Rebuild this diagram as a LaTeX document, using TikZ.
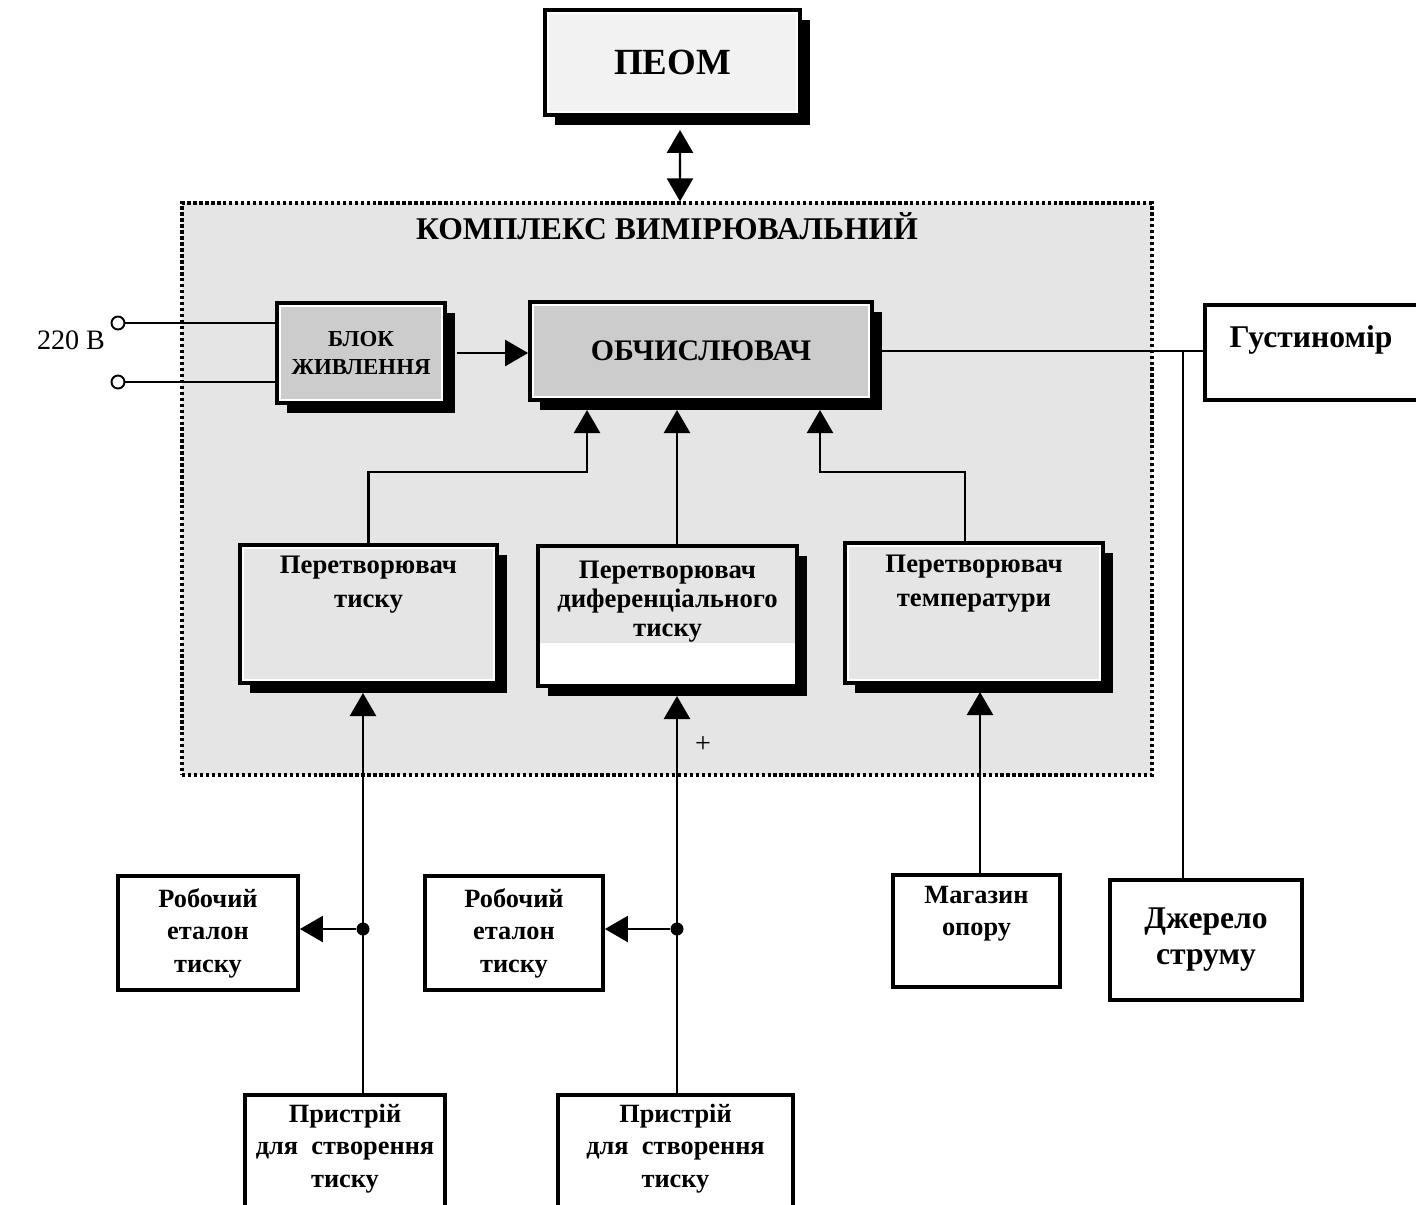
\documentclass[tikz,border=0pt]{standalone}
\usepackage{fontspec}
\setmainfont{Liberation Serif}
\usetikzlibrary{arrows.meta,shadows,positioning}

\begin{document}
\begin{tikzpicture}[x=0.02cm, y=-0.02cm, >={Triangle[length=0.46cm,width=0.52cm]},
  box/.style={draw, line width=2.2pt, inner sep=0pt},
  shade/.style={drop shadow={shadow xshift=0.2cm, shadow yshift=-0.2cm, fill=black, opacity=1}},
  rim/.style={path picture={\draw[white, line width=1pt] ([shift={(1.8pt,-1.8pt)}]path picture bounding box.north west) rectangle ([shift={(-1.8pt,1.8pt)}]path picture bounding box.south east);}},
  wire/.style={line width=1.4pt},
  thinwire/.style={line width=1pt},
  lbl/.style={align=center, inner sep=1pt, font=\bfseries\fontsize{15}{18.5}\selectfont},
  conv/.style={align=center, inner sep=1pt, font=\bfseries\fontsize{15.2}{19}\selectfont}]
\useasboundingbox (0,0) rectangle (1416,1204);

% комплекс
\node[draw, dash pattern=on 1.9pt off 1.5pt, line width=1.9pt, fill=black!10, minimum width=19.4cm, minimum height=11.44cm] (kompl) at (667,489) {};
\node[font=\bfseries\fontsize{18}{22}\selectfont] (kompl-t) at (667,226) {КОМПЛЕКС ВИМІРЮВАЛЬНИЙ};

% блоки
\node[box, shade, rim, fill=black!5, minimum width=5.1cm, minimum height=2.1cm, font=\bfseries\fontsize{21}{25}\selectfont] (peom) at (672.5,62.5) {ПЕОМ};
\node[box, shade, rim, fill=black!20, minimum width=3.36cm, minimum height=2cm, align=center, font=\bfseries\fontsize{13}{16}\selectfont] (blok) at (361,353) {БЛОК\\ЖИВЛЕННЯ};
\node[box, shade, rim, fill=black!20, minimum width=6.84cm, minimum height=1.96cm, font=\bfseries\fontsize{17}{20}\selectfont] (obch) at (701,351) {ОБЧИСЛЮВАЧ};
\node[box, fill=white, minimum width=4.6cm, minimum height=1.9cm] (gust) at (1320,352.5) {};
\node[font=\bfseries\fontsize{18}{21}\selectfont] (gust-t) at (1311,340) {Густиномір};

\node[box, shade, rim, fill=black!10, minimum width=5.14cm, minimum height=2.76cm] (ptysk) at (368.5,614) {};
\node[conv, below=0.22cm of ptysk.north] (ptysk-t) {Перетворювач\\тиску};
\node[box, shade, fill=black!10, minimum width=5.18cm, minimum height=2.8cm,
  path picture={\fill[white] (path picture bounding box.south west) rectangle ([yshift=0.86cm]path picture bounding box.south east);}] (pdif) at (667.5,616) {};
\node[conv, below=0.3cm of pdif.north, font=\bfseries\fontsize{15.2}{16.5}\selectfont] (pdif-t) {Перетворювач\\диференціального\\тиску};
\node[box, shade, rim, fill=black!10, minimum width=5.16cm, minimum height=2.8cm] (ptemp) at (974,613) {};
\node[conv, below=0.24cm of ptemp.north] (ptemp-t) {Перетворювач\\температури};

\node[box, fill=white, minimum width=3.6cm, minimum height=2.28cm, lbl] (robo1) at (208,933) {Робочий\\еталон\\тиску};
\node[box, fill=white, minimum width=3.56cm, minimum height=2.28cm, lbl] (robo2) at (514,933) {Робочий\\еталон\\тиску};
\node[box, fill=white, minimum width=3.34cm, minimum height=2.24cm] (magaz) at (976.5,931) {};
\node[lbl, below=0.22cm of magaz.north] (magaz-t) {Магазин\\опору};
\node[box, fill=white, minimum width=3.84cm, minimum height=2.4cm, align=center, font=\bfseries\fontsize{18}{20.5}\selectfont] (dzhe) at (1206,940) {Джерело\\струму};
\node[box, fill=white, minimum width=4cm, minimum height=2.4cm] (prys1) at (345,1155) {};
\node[lbl, below=0.18cm of prys1.north] (prys1-t) {Пристрій\\для~ створення\\тиску};
\node[box, fill=white, minimum width=4.7cm, minimum height=2.4cm] (prys2) at (675.5,1155) {};
\node[lbl, below=0.18cm of prys2.north] (prys2-t) {Пристрій\\для~ створення\\тиску};

% живлення
\node[font=\fontsize{16}{19}\selectfont] (volt) at (71,340) {220 В};
\node[draw, circle, line width=1.1pt, fill=white, minimum size=0.26cm, inner sep=0pt] (in1) at (118,323) {};
\node[draw, circle, line width=1.1pt, fill=white, minimum size=0.26cm, inner sep=0pt] (in2) at (118,382) {};
\draw[thinwire] (in1.east) -- (in1.east -| blok.west);
\draw[thinwire] (in2.east) -- (in2.east -| blok.west);
\draw[wire,->] ([xshift=0.2cm]blok.east) -- (blok.east -| obch.west);

% зв'язок з ПЕОМ
\draw[wire,<->] ([shift={(7.5,13)}]peom.south) -- ([shift={(13,0)}]kompl.north);

% входи обчислювача
\coordinate (obch-in1) at (587,410);
\coordinate (obch-in2) at (677,410);
\coordinate (obch-in3) at (820,410);
\draw[wire,->] (ptysk.north) -- ++(0,-71) -| (obch-in1);
\draw[wire,->] (pdif.north -| obch-in2) -- (obch-in2);
\draw[wire,->] ([xshift=-0.18cm]ptemp.north) -- ++(0,-69) -| (obch-in3);

% густиномір і джерело
\coordinate (gust-j) at (1183,352);
\draw[thinwire] (obch.east) -- (obch.east -| gust.west);
\draw[thinwire] (gust-j) -- (gust-j |- dzhe.north);

% нижні входи
\coordinate (ptysk-in) at (363,693);
\coordinate (pdif-in) at (677,696);
\coordinate (ptemp-in) at (980,692);
\draw[wire,->] (prys1.north -| ptysk-in) -- (ptysk-in);
\draw[wire,->] (prys2.north -| pdif-in) -- (pdif-in);
\draw[wire,->] (magaz.north -| ptemp-in) -- (ptemp-in);
\node[circle, fill, inner sep=0pt, minimum size=0.26cm] (dot1) at (363,929) {};
\node[circle, fill, inner sep=0pt, minimum size=0.26cm] (dot2) at (677,929) {};
\draw[wire,->] (dot1) -- (dot1 -| robo1.east);
\draw[wire,->] (dot2) -- (dot2 -| robo2.east);
\node[font=\fontsize{16}{19}\selectfont] (plus) at (703,745) {+};
\end{tikzpicture}
\end{document}
